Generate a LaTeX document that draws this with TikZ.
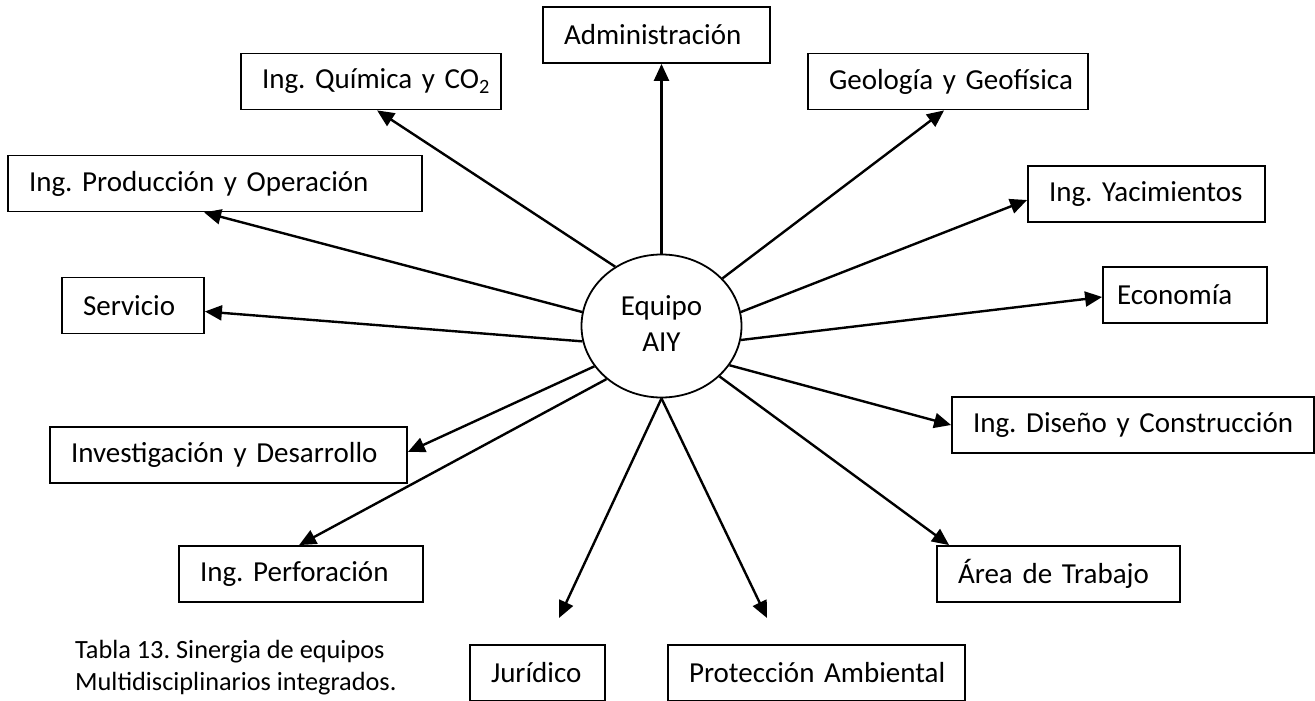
\documentclass[tikz,border=0pt]{standalone}
\usepackage{fontspec}
\setmainfont{Carlito}
\frenchspacing
\usetikzlibrary{shapes.geometric,arrows.meta}
\begin{document}
\frenchspacing
\begin{tikzpicture}[x=1pt,y=-1pt,
  box/.style={draw, line width=1.8pt, inner xsep=21pt, inner ysep=0pt,
    minimum height=56pt, align=left, font=\fontsize{29}{35}\selectfont\frenchspacing},
  conn/.style={line width=2.4pt, -{Triangle[length=17pt,width=15pt]}}]
\useasboundingbox (0,0) rectangle (1315,701);
\node[draw, ellipse, line width=1.8pt, minimum width=160pt, minimum height=143pt,
  inner sep=0pt, font=\fontsize{29}{36}\selectfont] (eq) at (661.5,326)
  {\raisebox{4pt}{\begin{tabular}{@{}c@{}}Equipo\\AIY\end{tabular}}};
\node[box, text width=185pt] (adm) at (656.5,35) {\mbox{Administración}};
\node[box, text width=218pt] (qui) at (371,81.5) {\mbox{Ing. Química y CO\textsubscript{2}}};
\node[box, text width=238pt] (geo) at (948,81.5) {\mbox{Geología y Geofísica}};
\node[box, text width=372pt] (prod) at (215,183.5) {\mbox{Ing. Producción y Operación}};
\node[box, text width=195pt] (yac) at (1146.5,194) {\mbox{Ing. Yacimientos}};
\node[box, text width=100pt] (ser) at (133,305.5) {\mbox{Servicio}};
\node[box, inner xsep=14pt, text width=136pt] (eco) at (1185,295) {\mbox{Economía}};
\node[box, text width=315pt] (inv) at (228.5,455) {\mbox{Investigación y Desarrollo}};
\node[box, text width=320pt] (dis) at (1133,425) {\mbox{Ing. Diseño y Construcción}};
\node[box, text width=202pt] (per) at (301,574) {\mbox{Ing. Perforación}};
\node[box, text width=201pt] (are) at (1058.5,574) {\mbox{Área de Trabajo}};
\node[box, text width=93pt] (jur) at (537.5,673) {\mbox{Jurídico}};
\node[box, text width=255pt] (pro) at (816.5,673) {\mbox{Protección Ambiental}};
\node[anchor=north west, align=left, inner sep=0pt, font=\fontsize{26.3}{32}\selectfont\frenchspacing] (cap) at (75,640)
  {Tabla 13. Sinergia de equipos\\Multidisciplinarios integrados.};
\coordinate (jt) at (559,618);
\coordinate (pt) at (767,618);
\draw[conn] (eq.north) -- (eq.north |- adm.south);
\draw[conn] (eq.128) -- ([xshift=137pt]qui.south west);
\draw[conn] (eq.38) -- ([xshift=137pt]geo.south west);
\draw[conn] (eq.170) -- ([xshift=197pt]prod.south west);
\draw[conn] (eq.10) -- ([yshift=-6pt]yac.west);
\draw[conn] (eq.191) -- ([yshift=-6pt]ser.east);
\draw[conn] (eq.-10) -- ([yshift=-2pt]eco.west);
\draw[conn] (eq.211) -- ([yshift=3pt]inv.east);
\draw[conn] (eq.-30) -- (dis.west);
\draw[conn] (eq.224) -- ([xshift=121pt]per.north west);
\draw[conn] (eq.-41) -- ([xshift=13pt]are.north west);
\draw[conn] (eq.south) -- (jt);
\draw[conn] (eq.south) -- (pt);
\end{tikzpicture}
\end{document}
